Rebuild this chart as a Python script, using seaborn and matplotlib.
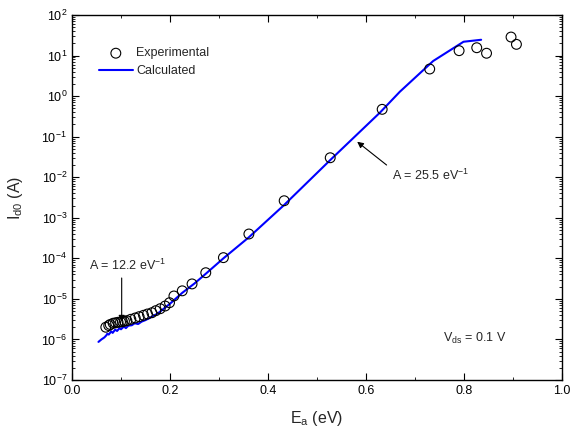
import matplotlib
matplotlib.use("Agg")
import matplotlib.pyplot as plt
from matplotlib.ticker import MultipleLocator, LogLocator, NullFormatter
import seaborn as sns
import pandas as pd

# Experimental data
exp_ea = [0.069, 0.075, 0.078, 0.084, 0.089, 0.094, 0.099, 0.103, 0.107, 0.112,
          0.120, 0.129, 0.137, 0.146, 0.154, 0.163, 0.171, 0.180, 0.190, 0.199,
          0.208, 0.225, 0.245, 0.273, 0.309, 0.361, 0.433, 0.527, 0.633, 0.730,
          0.790, 0.826, 0.846, 0.896, 0.907]
exp_id = [2.00e-6, 2.20e-6, 2.34e-6, 2.51e-6, 2.57e-6, 2.65e-6, 2.69e-6, 2.74e-6, 2.82e-6, 2.90e-6,
          3.14e-6, 3.38e-6, 3.64e-6, 3.94e-6, 4.24e-6, 4.56e-6, 5.12e-6, 5.73e-6, 6.67e-6, 8.05e-6,
          1.18e-5, 1.58e-5, 2.34e-5, 4.42e-5, 1.04e-4, 3.98e-4, 2.63e-3, 3.02e-2, 0.472, 4.66,
          13.2, 15.6, 11.4, 28.6, 18.9]

# Calculated curve
calc_ea = [0.054, 0.060, 0.066, 0.070, 0.072, 0.075, 0.080, 0.083, 0.088, 0.092,
           0.097, 0.100, 0.106, 0.110, 0.115, 0.122, 0.128, 0.135, 0.142, 0.150,
           0.160, 0.175, 0.200, 0.225, 0.250, 0.275, 0.309, 0.361, 0.433, 0.527,
           0.629, 0.669, 0.737, 0.799, 0.835]
calc_id = [8.7e-7, 1.0e-6, 1.12e-6, 1.26e-6, 1.38e-6, 1.32e-6, 1.58e-6, 1.45e-6, 1.74e-6, 1.62e-6,
           1.90e-6, 1.78e-6, 2.09e-6, 1.90e-6, 2.19e-6, 2.24e-6, 2.51e-6, 2.40e-6, 2.75e-6, 3.00e-6,
           3.47e-6, 4.37e-6, 7.6e-6, 1.41e-5, 2.40e-5, 4.37e-5, 1.00e-4, 3.31e-4, 2.07e-3, 2.65e-2,
           0.398, 1.28, 7.33, 21.9, 24.5]

x_ticks = [0.0, 0.2, 0.4, 0.6, 0.8, 1.0]

sns.set_style("ticks")
plt.rcParams['font.family'] = ['Liberation Sans', 'DejaVu Sans']
plt.rcParams['mathtext.fontset'] = 'custom'
plt.rcParams['mathtext.rm'] = 'Liberation Sans'
plt.rcParams['mathtext.it'] = 'Liberation Sans:italic'

fig = plt.figure(figsize=(5.74, 4.41), dpi=100)
ax = fig.add_axes([72/574, 1-380/441, 490/574, 365/441])

df_exp = pd.DataFrame({"Ea": exp_ea, "Id": exp_id})
df_calc = pd.DataFrame({"Ea": calc_ea, "Id": calc_id})

sns.lineplot(data=df_calc, x="Ea", y="Id", ax=ax, color="#0000ff", lw=1.5,
             sort=False, estimator=None, label="Calculated", zorder=2)
sns.scatterplot(data=df_exp, x="Ea", y="Id", ax=ax, marker="o", s=50,
                facecolor="none", edgecolor="black", linewidth=0.8,
                label="Experimental", zorder=3)

ax.set_yscale("log")
ax.set_xlim(0, 1.0)
ax.set_ylim(1e-7, 1e2)
ax.set_xticks(x_ticks)
ax.set_xticklabels([f"{t:.1f}" for t in x_ticks])
ax.xaxis.set_minor_locator(MultipleLocator(0.1))
ax.yaxis.set_major_locator(LogLocator(base=10, numticks=20))
ax.yaxis.set_minor_locator(LogLocator(base=10, subs=range(2, 10), numticks=100))
ax.yaxis.set_minor_formatter(NullFormatter())

ax.tick_params(which="both", direction="in", top=True, right=True, labelsize=9, colors="black")
ax.tick_params(which="major", length=5, width=0.8)
ax.tick_params(which="minor", length=2.5, width=0.6)
for s in ax.spines.values():
    s.set_color("black")
    s.set_linewidth(1.0)

ax.set_xlabel("E$_\\mathregular{a}$ (eV)", fontsize=11.5, labelpad=9)
ax.set_ylabel("I$_\\mathregular{d0}$ (A)", fontsize=11.5, labelpad=12)

h, l = ax.get_legend_handles_labels()
order = [l.index("Experimental"), l.index("Calculated")]
ax.legend([h[i] for i in order], [l[i] for i in order], loc="upper left",
          bbox_to_anchor=(0.055, 0.911), frameon=False, fontsize=9,
          handlelength=2.7, handletextpad=0.3, borderaxespad=0, borderpad=0,
          labelspacing=0.45)

arrow_kw = dict(arrowstyle="-|>", color="black", lw=0.8, shrinkA=0, shrinkB=0, mutation_scale=9)
ax.text(0.035, 10**-4.18, "A = 12.2 eV$^{\\mathregular{-1}}$", fontsize=9, va="center", ha="left")
ax.annotate("", xy=(0.1014, 10**-5.56), xytext=(0.1014, 10**-4.485), arrowprops=arrow_kw)
ax.annotate("", xy=(0.582, 10**-1.125), xytext=(0.642, 10**-1.699), arrowprops=arrow_kw)
ax.text(0.654, 10**-1.946, "A = 25.5 eV$^{\\mathregular{-1}}$", fontsize=9, va="center", ha="left")
ax.text(0.757, 10**-5.98, "V$_\\mathregular{ds}$ = 0.1 V", fontsize=9, va="center", ha="left")

fig.savefig("out.png", dpi=100)
